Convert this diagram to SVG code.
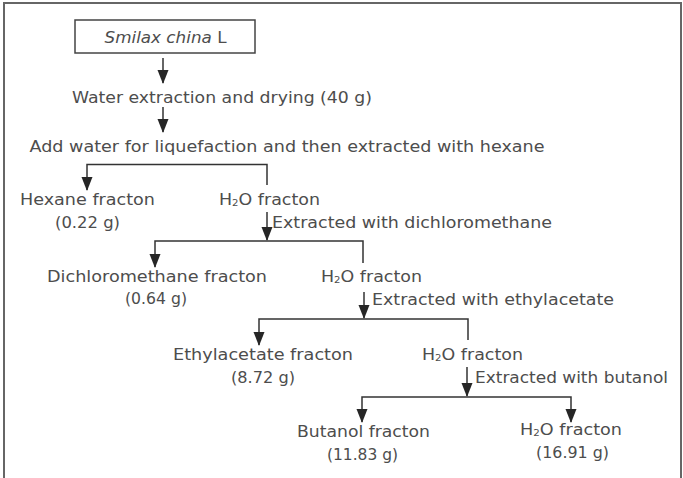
<svg xmlns="http://www.w3.org/2000/svg" width="683" height="478" viewBox="0 0 683 478">
<defs>
<marker id="ah" viewBox="0 0 14 12" markerWidth="14" markerHeight="12" refX="13" refY="6" orient="auto" markerUnits="userSpaceOnUse">
<path d="M0,0.5 L14,6 L0,11.5 Z" fill="#262626"/>
</marker>
<style>
.t{font-family:"DejaVu Sans","Liberation Sans",sans-serif;font-size:15.5px;fill:#4d4d4d;}
.c{fill:none;stroke:#333;stroke-width:1.5;marker-end:url(#ah);}
.sub{font-size:9px;}
</style>
</defs>
<rect x="0" y="0" width="683" height="478" fill="#fff"/>
<path d="M4,480 V3 H681 V480" fill="none" stroke="#666" stroke-width="2"/>
<g id="connectors">
<line class="c" x1="163" y1="58" x2="163" y2="83"/>
<line class="c" x1="163" y1="107" x2="163" y2="132"/>
<polyline class="c" points="267,185 267,164.5 87,164.5 87,190"/>
<line class="c" x1="267" y1="212" x2="267" y2="240"/>
<polyline class="c" points="363,263 363,241 155,241 155,267"/>
<line class="c" x1="364" y1="292" x2="364" y2="318"/>
<polyline class="c" points="468,340 468,319 259,319 259,345"/>
<line class="c" x1="467" y1="367" x2="467" y2="396"/>
<polyline class="c" points="467,397 362,397 362,422"/>
<polyline class="c" points="467,397 571,397 571,422"/>
</g>
<g id="n-smilax">
<rect x="75" y="20" width="180" height="33" fill="#fff" stroke="#444" stroke-width="1.5"/>
<text class="t" x="104.5" y="43" textLength="122" lengthAdjust="spacingAndGlyphs" style="font-size:15px"><tspan font-style="italic">Smilax china</tspan> L</text>
</g>
<g id="n-water"><text class="t" x="72" y="103" textLength="300" lengthAdjust="spacingAndGlyphs">Water extraction and drying (40 g)</text></g>
<g id="n-add"><text class="t" x="29.5" y="152" textLength="515" lengthAdjust="spacingAndGlyphs">Add water for liquefaction and then extracted with hexane</text></g>
<g id="n-hexane">
<text class="t" x="20" y="205" textLength="135" lengthAdjust="spacingAndGlyphs">Hexane fracton</text>
<text class="t" x="55" y="228" textLength="65" lengthAdjust="spacingAndGlyphs">(0.22 g)</text>
</g>
<g id="n-h2o-1"><text class="t" x="219" y="205" textLength="101" lengthAdjust="spacingAndGlyphs">H<tspan class="sub" dy="1">2</tspan><tspan dy="-1">O fracton</tspan></text></g>
<g id="l-dcm"><text class="t" x="272" y="228" textLength="280" lengthAdjust="spacingAndGlyphs">Extracted with dichloromethane</text></g>
<g id="n-dcm">
<text class="t" x="47" y="282" textLength="220" lengthAdjust="spacingAndGlyphs">Dichloromethane fracton</text>
<text class="t" x="125" y="304" textLength="62" lengthAdjust="spacingAndGlyphs">(0.64 g)</text>
</g>
<g id="n-h2o-2"><text class="t" x="321" y="282" textLength="101" lengthAdjust="spacingAndGlyphs">H<tspan class="sub" dy="1">2</tspan><tspan dy="-1">O fracton</tspan></text></g>
<g id="l-ea"><text class="t" x="372" y="305" textLength="242" lengthAdjust="spacingAndGlyphs">Extracted with ethylacetate</text></g>
<g id="n-ea">
<text class="t" x="173" y="360" textLength="180" lengthAdjust="spacingAndGlyphs">Ethylacetate fracton</text>
<text class="t" x="231" y="383" textLength="64" lengthAdjust="spacingAndGlyphs">(8.72 g)</text>
</g>
<g id="n-h2o-3"><text class="t" x="422" y="360" textLength="101" lengthAdjust="spacingAndGlyphs">H<tspan class="sub" dy="1">2</tspan><tspan dy="-1">O fracton</tspan></text></g>
<g id="l-bu"><text class="t" x="475" y="383" textLength="193" lengthAdjust="spacingAndGlyphs">Extracted with butanol</text></g>
<g id="n-butanol">
<text class="t" x="297" y="437" textLength="133" lengthAdjust="spacingAndGlyphs">Butanol fracton</text>
<text class="t" x="327" y="460" textLength="71" lengthAdjust="spacingAndGlyphs">(11.83 g)</text>
</g>
<g id="n-h2o-4">
<text class="t" x="520" y="435" textLength="102" lengthAdjust="spacingAndGlyphs">H<tspan class="sub" dy="1">2</tspan><tspan dy="-1">O fracton</tspan></text>
<text class="t" x="536" y="458" textLength="73" lengthAdjust="spacingAndGlyphs">(16.91 g)</text>
</g>
</svg>
